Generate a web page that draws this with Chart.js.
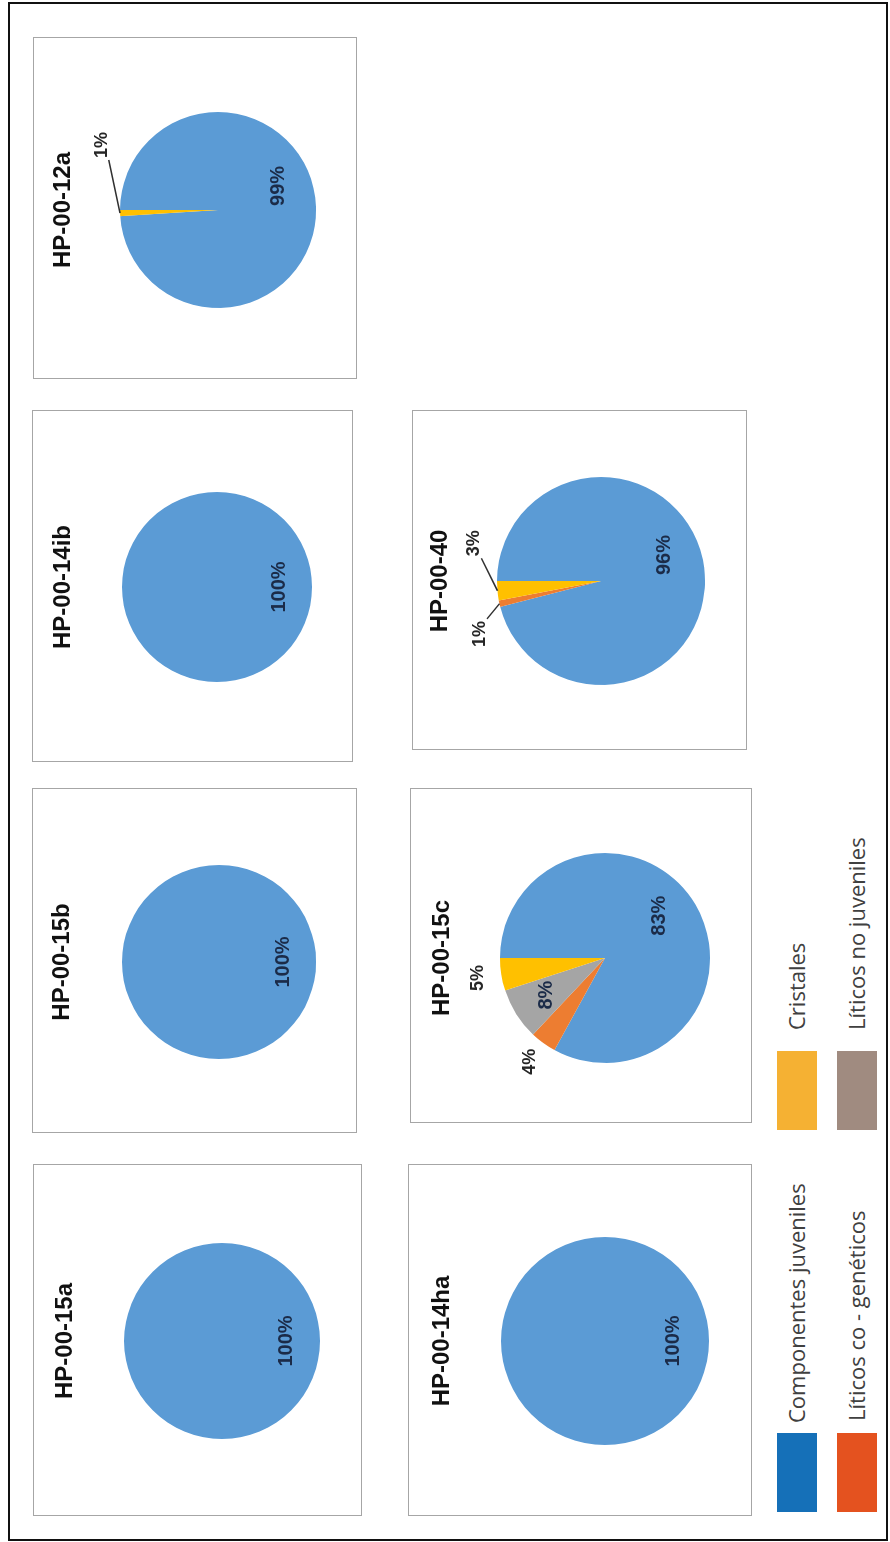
<!DOCTYPE html>
<html>
<head>
<meta charset="utf-8">
<script src="https://cdn.jsdelivr.net/npm/chart.js@4.4.1/dist/chart.umd.min.js"></script>
<style>
html, body { margin: 0; padding: 0; background: #fff; overflow: hidden; }
body { width: 890px; height: 1542px; position: relative; }
/* the whole figure is laid out flat (1542 x 890) and turned a quarter to the left */
#stage { position: absolute; left: 0; top: 1542px; width: 1542px; height: 890px; transform-origin: 0 0; transform: rotate(-90deg); }
.frame { position: absolute; border: 2px solid #111; box-sizing: border-box; }
.panel { position: absolute; outline: 1.5px solid #a6a6a6; outline-offset: -1.5px; background: #fff; }
.swatch { position: absolute; width: 79px; height: 40px; }
.keyText { position: absolute; font-family: 'Open Sans', sans-serif; font-size: 22px; color: #404040; line-height: 40px; white-space: nowrap; }
</style>
</head>
<body>
<div id="stage">
    <div class="frame" style="left:1px; top:8px; width:1539px; height:880px;"></div>
</div>
<script>
// Muestras y componentes (porcentajes)
const samples = ['HP-00-15a', 'HP-00-15b', 'HP-00-14ib', 'HP-00-12a', 'HP-00-14ha', 'HP-00-15c', 'HP-00-40'];
const components = ['Componentes juveniles', 'Líticos co - genéticos', 'Líticos no juveniles', 'Cristales'];
const juveniles   = [100, 100, 100, 99, 100, 83, 96];
const coGeneticos = [0, 0, 0, 0, 0, 4, 1];
const noJuveniles = [0, 0, 0, 0, 0, 8, 0];
const cristales   = [0, 0, 0, 1, 0, 5, 3];

const pieColors = ['#5b9bd5', '#ed7d31', '#a5a5a5', '#ffc000'];

// Posición de cada recuadro en la figura sin girar (u horizontal, v vertical)
const panels = [
    { u0: 26,   v0: 33,  u1: 378,  v1: 362, cu: 201,  cv: 222, r: 98,  tv: 65 },
    { u0: 409,  v0: 32,  u1: 754,  v1: 357, cu: 580,  cv: 219, r: 97,  tv: 62 },
    { u0: 780,  v0: 32,  u1: 1132, v1: 353, cu: 955,  cv: 217, r: 95,  tv: 63 },
    { u0: 1163, v0: 33,  u1: 1505, v1: 357, cu: 1332, cv: 218, r: 98,  tv: 63 },
    { u0: 26,   v0: 408, u1: 378,  v1: 752, cu: 201,  cv: 605, r: 104, tv: 442 },
    { u0: 419,  v0: 410, u1: 754,  v1: 752, cu: 584,  cv: 605, r: 105, tv: 442 },
    { u0: 792,  v0: 412, u1: 1132, v1: 747, cu: 961,  cv: 601, r: 104, tv: 440 }
];

// Desplazamiento angular (grados) de las etiquetas, como en el gráfico de Excel
const labelShift = [
    [0, 0, 0, 0], [0, 0, 0, 0], [0, 0, 0, 0], [-20, 0, 0, 31],
    [0, 0, 0, 0], [-7, 0, 0, 0], [-15, -11, 0, 22]
];
const outerDist = [1.27, 1.27, 1.27, 1.36, 1.27, 1.22, 1.27];

// Etiquetas de porcentaje con líneas guía
const pieLabels = {
    id: 'pieLabels',
    afterDraw(chart, args, opts) {
        const ctx = chart.ctx;
        const values = chart.data.datasets[0].data;
        const meta = chart.getDatasetMeta(0);
        ctx.save();
        ctx.textAlign = 'center';
        ctx.textBaseline = 'middle';
        meta.data.forEach((arc, i) => {
            const val = values[i];
            if (!val) return;
            const p = arc.getProps(['x', 'y', 'startAngle', 'endAngle', 'outerRadius'], true);
            const mid = (p.startAngle + p.endAngle) / 2;
            const shiftDeg = opts.shift[i] || 0;
            const a = mid + shiftDeg * Math.PI / 180;
            const text = val + '%';
            if (val >= 6) {
                const d = p.outerRadius * 0.66;
                ctx.font = 'bold 20px "Liberation Sans", Arial, sans-serif';
                ctx.fillStyle = '#1b2b48';
                ctx.fillText(text, p.x + Math.cos(a) * d, p.y + Math.sin(a) * d);
            } else {
                const d = p.outerRadius * opts.dist;
                const lx = p.x + Math.cos(a) * d;
                const ly = p.y + Math.sin(a) * d;
                ctx.font = 'bold 18px "Liberation Sans", Arial, sans-serif';
                ctx.fillStyle = '#262626';
                ctx.fillText(text, lx, ly);
                if (Math.abs(shiftDeg) > 5) {
                    const w = ctx.measureText(text).width;
                    const ex = p.x + Math.cos(mid) * p.outerRadius;
                    const ey = p.y + Math.sin(mid) * p.outerRadius;
                    const side = ex < lx ? -1 : 1;
                    ctx.beginPath();
                    ctx.moveTo(ex, ey);
                    ctx.lineTo(lx + side * (w / 2 + 2), ly + 7);
                    ctx.strokeStyle = '#303030';
                    ctx.lineWidth = 1.5;
                    ctx.stroke();
                }
            }
        });
        ctx.restore();
    }
};

const stage = document.getElementById('stage');
const titleLine = 28.8;

samples.forEach((name, k) => {
    const b = panels[k];
    const W = b.u1 - b.u0, H = b.v1 - b.v0;
    const div = document.createElement('div');
    div.className = 'panel';
    div.style.left = b.u0 + 'px';
    div.style.top = b.v0 + 'px';
    div.style.width = W + 'px';
    div.style.height = H + 'px';
    const canvas = document.createElement('canvas');
    canvas.width = W;
    canvas.height = H;
    div.appendChild(canvas);
    stage.appendChild(div);

    const lx = b.cu - b.u0, ly = b.cv - b.v0;
    const tTop = (b.tv - b.v0) - titleLine / 2;
    const tBottom = (ly - b.r) - tTop - titleLine;

    new Chart(canvas.getContext('2d'), {
        type: 'pie',
        data: {
            labels: components,
            datasets: [{
                data: [juveniles[k], coGeneticos[k], noJuveniles[k], cristales[k]],
                backgroundColor: pieColors,
                borderWidth: 0
            }]
        },
        options: {
            responsive: false,
            animation: false,
            events: [],
            layout: {
                padding: { left: lx - b.r, right: W - (lx + b.r), top: 0, bottom: H - (ly + b.r) }
            },
            plugins: {
                legend: { display: false },
                tooltip: { enabled: false },
                title: {
                    display: true,
                    text: name,
                    color: '#111',
                    font: { family: '"Liberation Sans", Arial, sans-serif', size: 24, weight: 'bold', lineHeight: 1.2 },
                    padding: { top: tTop, bottom: tBottom }
                },
                pieLabels: { shift: labelShift[k], dist: outerDist[k] }
            }
        },
        plugins: [pieLabels]
    });
});

// Leyenda común
const legendColors = ['#1570b8', '#e4521f', '#a08b80', '#f5b133'];
const legendPos = [
    { su: 30,  sv: 777, tu: 119 },
    { su: 30,  sv: 837, tu: 121 },
    { su: 412, sv: 837, tu: 512 },
    { su: 412, sv: 777, tu: 512 }
];
components.forEach((name, i) => {
    const pos = legendPos[i];
    const sw = document.createElement('div');
    sw.className = 'swatch';
    sw.style.left = pos.su + 'px';
    sw.style.top = pos.sv + 'px';
    sw.style.background = legendColors[i];
    stage.appendChild(sw);
    const t = document.createElement('div');
    t.className = 'keyText';
    t.style.left = pos.tu + 'px';
    t.style.top = (pos.sv - 1) + 'px';
    t.textContent = name;
    stage.appendChild(t);
});
</script>
</body>
</html>
